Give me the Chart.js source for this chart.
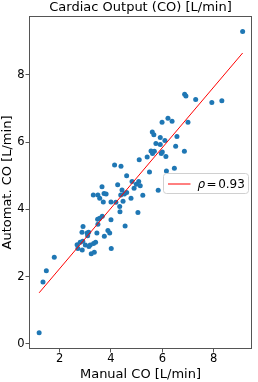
<!DOCTYPE html>
<html lang="en">
<head>
<meta charset="UTF-8">
<title>Cardiac Output (CO)</title>
<script src="https://cdn.jsdelivr.net/npm/chart.js@4.4.0/dist/chart.umd.min.js"></script>
<style>
  html, body { margin: 0; padding: 0; background: #fff; }
  #chart { display: block; }
</style>
</head>
<body>
<canvas id="chart" width="258" height="382"></canvas>
<script>
// manual vs automatic cardiac output
const manualCO = [
  9.13, 6.87, 6.92, 7.30, 7.93, 8.32, 5.99, 6.22, 6.38, 7.00,
  5.61, 5.67, 5.92, 6.57, 6.10, 5.75, 5.92, 6.52, 5.56, 5.69,
  5.62, 6.00, 5.96, 6.86, 6.14, 5.41, 5.10, 6.47, 5.50, 6.16,
  5.84, 4.82, 4.99, 5.08, 5.14, 4.90, 5.24, 4.78, 5.05, 4.14,
  4.39, 4.61, 4.26, 3.65, 4.43, 4.61, 4.38, 4.52, 3.31, 3.49,
  3.73, 3.81, 3.56, 3.70, 4.00, 4.19, 4.47, 4.34, 4.35, 3.66,
  3.48, 3.56, 4.00, 3.49, 2.91, 4.55, 2.87, 3.07, 3.13, 3.45,
  3.88, 3.95, 3.09, 3.74, 2.68, 2.80, 2.90, 3.00, 3.40, 3.32,
  3.19, 3.14, 2.71, 2.88, 3.23, 3.35, 4.01, 1.79, 1.48, 1.35,
  1.20
];
const automatCO = [
  9.29, 7.42, 7.37, 7.27, 7.18, 7.23, 6.59, 6.71, 6.62, 6.59,
  6.30, 6.22, 6.14, 6.17, 6.05, 5.96, 5.93, 5.88, 5.74, 5.73,
  5.66, 5.71, 5.66, 5.73, 5.57, 5.56, 5.48, 5.22, 5.11, 5.14,
  4.57, 4.83, 4.75, 4.83, 4.70, 4.63, 4.42, 4.33, 3.91, 5.32,
  5.28, 5.00, 4.73, 4.67, 4.58, 4.50, 4.43, 4.46, 4.43, 4.43,
  4.47, 4.46, 4.33, 4.22, 4.22, 4.21, 4.24, 4.09, 3.93, 3.80,
  3.71, 3.74, 3.69, 3.56, 3.49, 3.51, 3.32, 3.30, 3.32, 3.30,
  3.37, 3.30, 3.22, 3.20, 2.95, 3.02, 3.05, 2.94, 3.02, 2.99,
  2.94, 2.90, 2.84, 2.79, 2.68, 2.73, 2.84, 2.58, 2.18, 1.84,
  0.33
];
// regression line end points
const fitX = [1.20, 9.13];
const fitY = [1.52, 8.65];
const rho = 0.93;

const xTicks = [2, 4, 6, 8];
const yTicks = [0, 2, 4, 6, 8];

const FONT = 'DejaVu Sans';
const frameColor = '#555';
const dotColor = '#1f77b4';
const fitColor = '#ff0000';

// matplotlib style: 4 sided frame
const frame = {
  id: 'frame',
  afterDatasetsDraw(chart) {
    const { ctx, chartArea: a } = chart;
    ctx.save();
    ctx.strokeStyle = frameColor;
    ctx.lineWidth = 1;
    ctx.strokeRect(Math.round(a.left) + 0.5, Math.round(a.top) + 0.5,
      Math.round(a.right - a.left) - 1, Math.round(a.bottom - a.top) - 1);
    ctx.restore();
  }
};

// legend box inside the axes, centre right
const legendBox = {
  id: 'legendBox',
  afterDraw(chart) {
    const { ctx, chartArea: a } = chart;
    const w = 85, h = 20;
    const x = Math.round(a.right - 4 - w) + 0.5;
    const y = Math.round((a.top + a.bottom) / 2 - h / 2) + 0.5;
    ctx.save();
    ctx.beginPath();
    ctx.roundRect(x, y, w, h, 3);
    ctx.fillStyle = 'rgba(255,255,255,0.8)';
    ctx.fill();
    ctx.strokeStyle = '#d0d0d0';
    ctx.lineWidth = 1;
    ctx.stroke();

    ctx.beginPath();
    ctx.moveTo(x + 4.5, Math.round(y + h / 2));
    ctx.lineTo(x + 27, Math.round(y + h / 2));
    ctx.strokeStyle = fitColor;
    ctx.lineWidth = 1;
    ctx.stroke();

    ctx.fillStyle = '#000';
    ctx.textBaseline = 'middle';
    let tx = x + 34;
    ctx.font = 'italic 12px ' + FONT;
    ctx.fillText('ρ', tx, y + h / 2 + 1);
    tx += ctx.measureText('ρ').width + 1.5;
    ctx.font = '12px ' + FONT;
    ctx.fillText('=', tx, y + h / 2 + 1);
    tx += ctx.measureText('=').width + 1.5;
    ctx.fillText(rho.toFixed(2), tx, y + h / 2 + 1);
    ctx.restore();
  }
};

const tickFont = { family: FONT, size: 11.5 };
const labelFont = { family: FONT, size: 13 };

new Chart(document.getElementById('chart'), {
  type: 'scatter',
  data: {
    datasets: [
      {
        label: 'data',
        data: manualCO.map((v, i) => ({ x: v, y: automatCO[i] })),
        backgroundColor: dotColor,
        borderWidth: 0,
        pointRadius: 2.5,
        order: 2
      },
      {
        type: 'line',
        label: 'ρ = ' + rho.toFixed(2),
        data: fitX.map((v, i) => ({ x: v, y: fitY[i] })),
        borderColor: fitColor,
        borderWidth: 1,
        pointRadius: 0,
        fill: false,
        order: 1
      }
    ]
  },
  options: {
    responsive: false,
    animation: false,
    layout: { padding: { top: 0, right: 6, bottom: 0, left: 0 } },
    plugins: {
      legend: { display: false },
      tooltip: { enabled: false },
      title: {
        display: true,
        text: 'Cardiac Output (CO) [L/min]',
        fullSize: false,
        color: '#000',
        font: { family: FONT, size: 13, weight: 'normal' },
        padding: { top: 0, bottom: 0.4 }
      }
    },
    scales: {
      x: {
        type: 'linear',
        min: 0.805,
        max: 9.495,
        afterBuildTicks: s => { s.ticks = xTicks.map(v => ({ value: v })); },
        afterFit: s => { s.height = 33; },
        grid: { display: true, drawOnChartArea: false, drawTicks: true, tickLength: 3.5, color: frameColor },
        border: { display: false },
        ticks: { color: '#000', font: tickFont, padding: 0, maxRotation: 0 },
        title: { display: true, text: 'Manual CO [L/min]', color: '#000', font: labelFont, padding: 0 }
      },
      y: {
        type: 'linear',
        min: -0.15,
        max: 9.75,
        afterBuildTicks: s => { s.ticks = yTicks.map(v => ({ value: v })); },
        afterFit: s => { s.width = 29; },
        grid: { display: true, drawOnChartArea: false, drawTicks: true, tickLength: 3.5, color: frameColor },
        border: { display: false },
        ticks: { color: '#000', font: tickFont, padding: 1 },
        title: { display: true, text: 'Automat. CO [L/min]', color: '#000', font: labelFont, padding: 0 }
      }
    }
  },
  plugins: [frame, legendBox]
});
</script>
</body>
</html>
